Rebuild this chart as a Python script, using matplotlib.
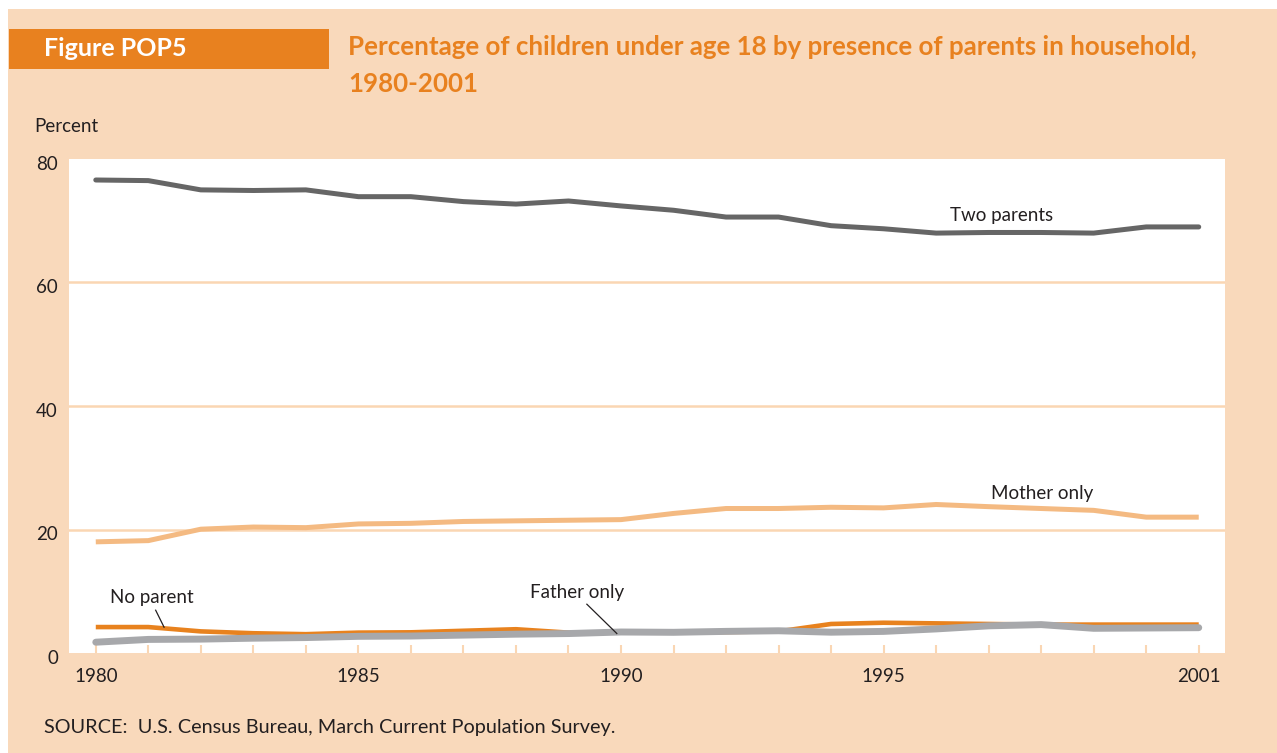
import matplotlib
matplotlib.use("Agg")
import matplotlib.pyplot as plt
from matplotlib.patches import Rectangle
from matplotlib.transforms import ScaledTranslation

# ---- data ----
years = list(range(1980, 2002))
two_parents = [76.6, 76.5, 75.0, 74.9, 75.0, 73.9, 73.9, 73.1, 72.7, 73.2, 72.4,
               71.7, 70.6, 70.6, 69.2, 68.7, 68.0, 68.1, 68.1, 68.0, 69.0, 69.0]
mother_only = [18.0, 18.2, 20.05, 20.4, 20.3, 20.9, 21.0, 21.3, 21.4, 21.5, 21.6,
               22.6, 23.4, 23.4, 23.6, 23.5, 24.05, 23.7, 23.4, 23.1, 22.0, 22.0]
no_parent = [4.2, 4.2, 3.5, 3.2, 3.05, 3.3, 3.35, 3.6, 3.85, 3.3, 3.3,
             3.3, 3.4, 3.5, 4.7, 4.9, 4.8, 4.7, 4.6, 4.6, 4.6, 4.6]
father_only = [1.75, 2.2, 2.25, 2.4, 2.5, 2.7, 2.75, 2.9, 3.05, 3.15, 3.4,
               3.35, 3.5, 3.6, 3.37, 3.5, 3.9, 4.4, 4.6, 4.0, 4.05, 4.1]
yticks = [0, 20, 40, 60, 80]
xtick_labels = {1980: "1980", 1985: "1985", 1990: "1990", 1995: "1995", 2001: "2001"}

BG = "#F9D9BB"
ORANGE = "#E8811F"
FONT = "Lato"
TXT = "#231F20"

W, H = 1277, 753
fig = plt.figure(figsize=(W / 100, H / 100), dpi=100)
fig.patch.set_facecolor("white")

# peach panel
fig.patches.append(Rectangle((8 / W, 0), 1 - 8 / W, 1 - 9 / H, transform=fig.transFigure,
                             facecolor=BG, edgecolor="none", zorder=-10))
# orange header box
fig.patches.append(Rectangle((9 / W, 1 - 69 / H), 320 / W, 40 / H, transform=fig.transFigure,
                             facecolor=ORANGE, edgecolor="none", zorder=-5))
fig.text(44 / W, 1 - 49 / H, "Figure POP5", color="white", fontsize=18,
         fontweight="bold", family=FONT, va="center", ha="left", zorder=2)
fig.text(348 / W, 1 - 47 / H, "Percentage of children under age 18 by presence of parents in household,",
         color=ORANGE, fontsize=18.6, fontweight="bold", family=FONT, va="center", ha="left")
fig.text(348 / W, 1 - 84 / H, "1980-2001",
         color=ORANGE, fontsize=18.6, fontweight="bold", family=FONT, va="center", ha="left")
fig.text(34 / W, 1 - 127 / H, "Percent", color=TXT, fontsize=13.5, family=FONT,
         va="center", ha="left")
fig.text(44 / W, 1 - 727 / H, "SOURCE:  U.S. Census Bureau, March Current Population Survey.",
         color=TXT, fontsize=14.3, family=FONT, va="center", ha="left")

left, right = 69 / W, 1225 / W
bottom, top = 1 - 653 / H, 1 - 159 / H
ax = fig.add_axes([left, bottom, right - left, top - bottom])
ax.set_facecolor("white")
for s in ax.spines.values():
    s.set_visible(False)
ax.set_xlim(1979.49, 2001.5)
ax.set_ylim(0, 80)

for g in [20, 40, 60]:
    ax.axhline(g, color="#FAD6B3", lw=1.8, zorder=1)

ax.plot(years, two_parents, color="#666666", lw=3.6, solid_capstyle="round",
        solid_joinstyle="round", zorder=3)
ax.plot(years, mother_only, color="#F4BA82", lw=3.6, solid_capstyle="butt",
        solid_joinstyle="round", zorder=3)
ax.plot(years, no_parent, color="#E8821E", lw=3.3, solid_capstyle="butt",
        solid_joinstyle="round", zorder=3)
ax.plot(years, father_only, color="#A7A8AB", lw=5.0, solid_capstyle="round",
        solid_joinstyle="round", zorder=4)

# annotations
ax.text(1997.25, 70.9, "Two parents", fontsize=13.5, family=FONT, color=TXT,
        ha="center", va="center")
ax.text(1998.01, 25.9, "Mother only", fontsize=13.5, family=FONT, color=TXT,
        ha="center", va="center")
ax.text(1981.07, 9.0, "No parent", fontsize=13.5, family=FONT, color=TXT,
        ha="center", va="center")
ax.text(1989.16, 9.85, "Father only", fontsize=13.5, family=FONT, color=TXT,
        ha="center", va="center")
ax.plot([1981.14, 1981.30], [6.93, 4.18], color=TXT, lw=0.9, zorder=5)
ax.plot([1989.35, 1989.92], [7.9, 3.16], color=TXT, lw=0.9, zorder=5)

# ticks
ax.set_xticks(years)
ax.set_xticklabels([xtick_labels.get(y, "") for y in years])
ax.tick_params(axis="x", direction="in", length=6, width=1.5, color="#FAD6B3",
               pad=11, labelsize=13.5, labelcolor=TXT)
ax.set_yticks(yticks)
ax.tick_params(axis="y", length=0, pad=8, labelsize=13.5, labelcolor=TXT)
for lab in ax.get_xticklabels() + ax.get_yticklabels():
    lab.set_family(FONT)
off = ScaledTranslation(0, -4 / 100, fig.dpi_scale_trans)
for lab in ax.get_yticklabels():
    lab.set_transform(lab.get_transform() + off)
ax.set_axisbelow(False)

fig.savefig("out.png", dpi=100, facecolor=fig.get_facecolor())
